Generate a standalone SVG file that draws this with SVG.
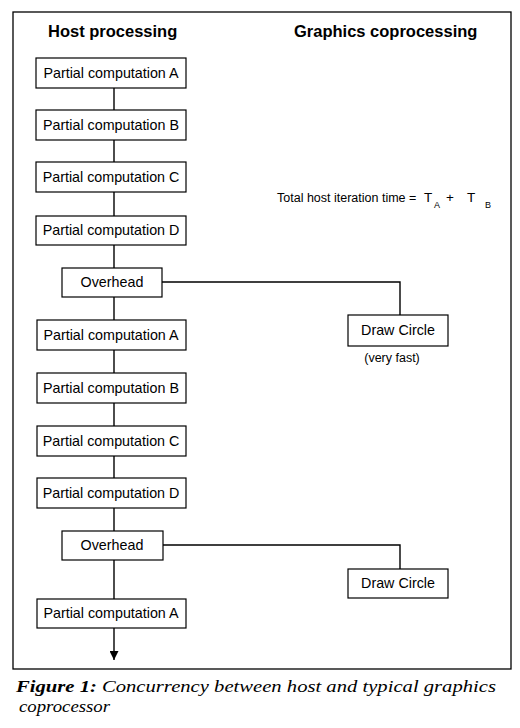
<svg xmlns="http://www.w3.org/2000/svg" width="520" height="728" viewBox="0 0 520 728">
<defs>
<style>
.box{fill:#fff;stroke:#000;stroke-width:1.2}
.t{font-family:"Liberation Sans",Arial,sans-serif;font-size:14.3px;fill:#000;text-anchor:middle}
.s{font-family:"Liberation Sans",Arial,sans-serif;font-size:12.5px;fill:#000}
.m{font-size:13.5px}
.sub{font-size:9px}
.h{font-family:"Liberation Sans",Arial,sans-serif;font-size:16.5px;font-weight:bold;fill:#000}
.c{stroke:#000;stroke-width:1.4;fill:none}
.cap{font-family:"Liberation Serif","Times New Roman",serif;font-size:17px;font-style:italic;fill:#000}
</style>
<marker id="arr" viewBox="0 0 10 10" refX="10" refY="5" markerWidth="9" markerHeight="9" markerUnits="userSpaceOnUse" orient="auto">
<path d="M0,0 L10,5 L0,10 Z" fill="#000"/>
</marker>
</defs>
<rect x="0" y="0" width="520" height="728" fill="#fff"/>
<rect x="13" y="12" width="498" height="657" fill="none" stroke="#000" stroke-width="1.3"/>
<text class="h" x="48" y="37">Host processing</text>
<text class="h" x="294" y="37">Graphics coprocessing</text>
<g id="connectors">
<line class="c" x1="114" y1="88" x2="114" y2="110"/>
<line class="c" x1="114" y1="140" x2="114" y2="162"/>
<line class="c" x1="114" y1="192" x2="114" y2="216"/>
<line class="c" x1="114" y1="245" x2="114" y2="268"/>
<line class="c" x1="114" y1="297" x2="114" y2="320"/>
<line class="c" x1="114" y1="350" x2="114" y2="373"/>
<line class="c" x1="114" y1="403" x2="114" y2="426"/>
<line class="c" x1="114" y1="456" x2="114" y2="478"/>
<line class="c" x1="114" y1="508" x2="114" y2="531"/>
<line class="c" x1="114" y1="560" x2="114" y2="599"/>
<line class="c" x1="114" y1="628" x2="114" y2="660" marker-end="url(#arr)"/>
<polyline class="c" points="162,282 400,282 400,315"/>
<polyline class="c" points="163,545 400,545 400,569"/>
</g>
<g id="hostA1"><rect class="box" x="36" y="58" width="150" height="30"/><text class="t" x="111" y="78">Partial computation A</text></g>
<g id="hostB1"><rect class="box" x="36" y="110" width="150" height="30"/><text class="t" x="111" y="130">Partial computation B</text></g>
<g id="hostC1"><rect class="box" x="36" y="162" width="150" height="30"/><text class="t" x="111" y="182">Partial computation C</text></g>
<g id="hostD1"><rect class="box" x="36" y="216" width="150" height="29"/><text class="t" x="111" y="235">Partial computation D</text></g>
<g id="overhead1"><rect class="box" x="62" y="268" width="100" height="29"/><text class="t" x="112" y="287">Overhead</text></g>
<g id="hostA2"><rect class="box" x="37" y="320" width="149" height="30"/><text class="t" x="111" y="340">Partial computation A</text></g>
<g id="hostB2"><rect class="box" x="37" y="373" width="149" height="30"/><text class="t" x="111" y="393">Partial computation B</text></g>
<g id="hostC2"><rect class="box" x="37" y="426" width="149" height="30"/><text class="t" x="111" y="446">Partial computation C</text></g>
<g id="hostD2"><rect class="box" x="37" y="478" width="149" height="30"/><text class="t" x="111" y="498">Partial computation D</text></g>
<g id="overhead2"><rect class="box" x="62" y="531" width="101" height="29"/><text class="t" x="112" y="550">Overhead</text></g>
<g id="hostA3"><rect class="box" x="37" y="599" width="149" height="29"/><text class="t" x="111" y="618">Partial computation A</text></g>
<g id="draw1"><rect class="box" x="348" y="315" width="100" height="31"/><text class="t" x="398" y="335">Draw Circle</text></g>
<g id="draw2"><rect class="box" x="348" y="569" width="100" height="29"/><text class="t" x="398" y="588">Draw Circle</text></g>
<text class="s" x="392" y="362" text-anchor="middle">(very fast)</text>
<text class="s" x="277" y="202">Total host iteration time =</text>
<text class="s m" x="424" y="202">T</text>
<text class="s sub" x="434" y="208">A</text>
<text class="s m" x="446" y="202">+</text>
<text class="s m" x="467" y="202">T</text>
<text class="s sub" x="485" y="208">B</text>
<text class="cap" x="16" y="692" textLength="480" lengthAdjust="spacingAndGlyphs"><tspan font-weight="bold">Figure 1:</tspan> Concurrency between host and typical graphics</text>
<text class="cap" x="19" y="712" textLength="91" lengthAdjust="spacingAndGlyphs">coprocessor</text>
</svg>
